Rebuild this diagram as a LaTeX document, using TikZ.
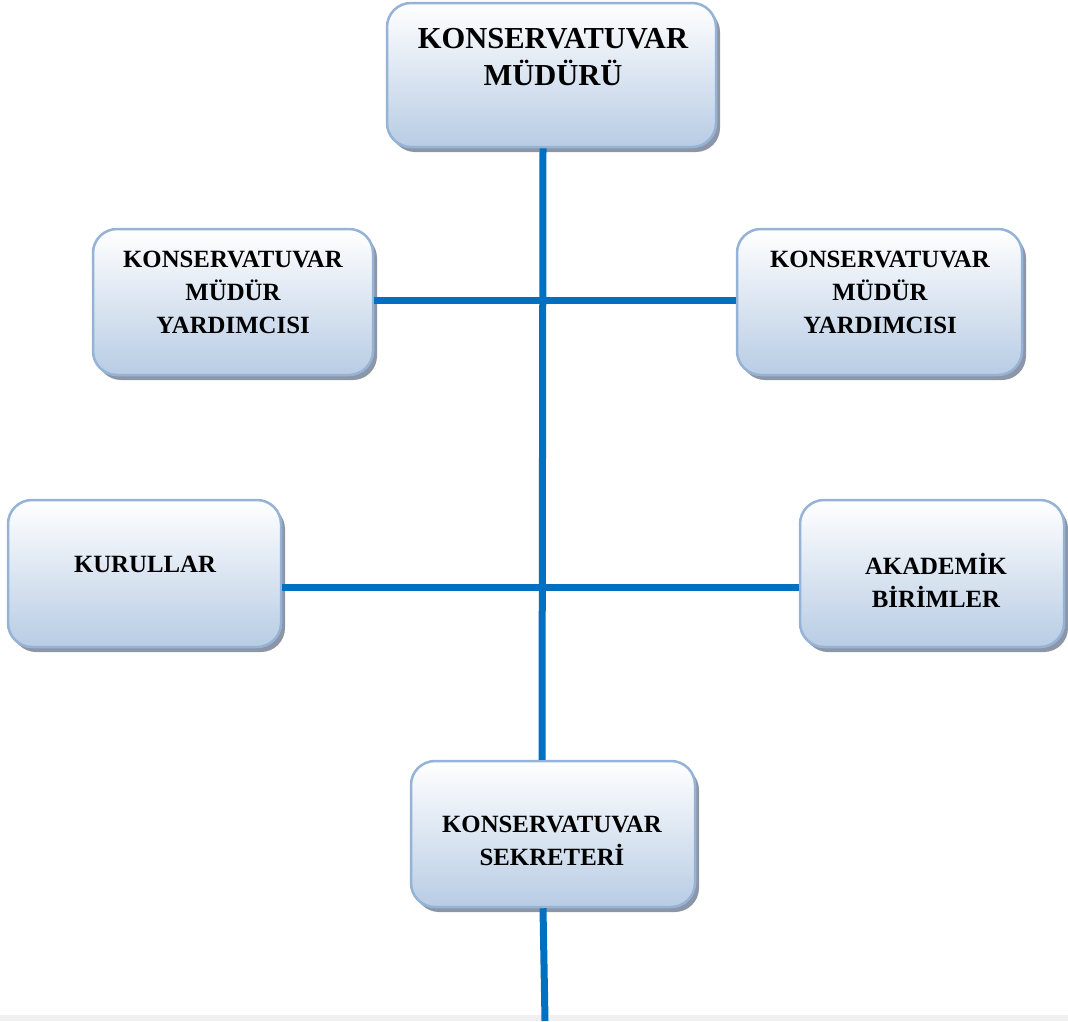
\documentclass[tikz,border=0pt]{standalone}
\usepackage{fontspec}
\setmainfont{Liberation Serif}
\usetikzlibrary{shadows}
\definecolor{lineblue}{HTML}{0070C0}
\definecolor{boxedge}{HTML}{95B3D7}
\definecolor{boxbot}{HTML}{B8CCE4}
\definecolor{shadowgray}{HTML}{8C96A6}
\definecolor{bandgray}{HTML}{F0F0F0}
\begin{document}
\begin{tikzpicture}[x=1pt,y=-1pt,
  box/.style={draw=boxedge, line width=2.5pt, rounded corners=24pt,
    top color=white, bottom color=boxbot, inner sep=0pt,
    drop shadow={shadow xshift=4pt, shadow yshift=-5pt, fill=shadowgray, opacity=1}},
  bigtxt/.style={font=\fontsize{30.5}{37}\selectfont\bfseries, align=center, inner sep=0pt},
  smalltxt/.style={font=\fontsize{24.8}{33}\selectfont\bfseries, align=center, inner sep=0pt},
  conn/.style={draw=lineblue, line width=7pt}]
\useasboundingbox (0,0) rectangle (1068,1021);
\fill[bandgray] (0,1015) rectangle (1068,1021);
% boxes
\node[box, minimum width=329pt, minimum height=144pt] (top) at (551.5,75) {};
\node[box, minimum width=280pt, minimum height=146pt] (vpl) at (233,302) {};
\node[box, minimum width=285pt, minimum height=146pt] (vpr) at (879.5,302) {};
\node[box, minimum width=273pt, minimum height=147pt] (kur) at (144.5,573.5) {};
\node[box, minimum width=264pt, minimum height=147pt] (aka) at (932,573.5) {};
\node[box, minimum width=284pt, minimum height=146pt] (sek) at (553,834) {};
% texts
\node[bigtxt] (ttop) at (553,57.5) {KONSERVATUVAR\\MÜDÜRÜ};
\node[smalltxt] (tvpl) at (233,292) {KONSERVATUVAR\\MÜDÜR\\YARDIMCISI};
\node[smalltxt] (tvpr) at (880,292) {KONSERVATUVAR\\MÜDÜR\\YARDIMCISI};
\node[smalltxt] (tkur) at (145,564) {KURULLAR};
\node[smalltxt] (taka) at (936,580) {AKADEMİK\\BİRİMLER};
\node[smalltxt] (tsek) at (552,841) {KONSERVATUVAR\\SEKRETERİ};
% connectors
\coordinate (bend) at (545,1021);
\draw[conn] ([xshift=-8.5pt]top.south) -- ([xshift=-11pt]sek.north);
\draw[conn] ([yshift=2pt]vpl.east) -- ([yshift=2pt]vpr.west);
\draw[conn] ([yshift=-13.5pt]kur.east) -- ([yshift=-13.5pt]aka.west);
\draw[conn] ([xshift=-10pt]sek.south) -- (bend);
\end{tikzpicture}
\end{document}
